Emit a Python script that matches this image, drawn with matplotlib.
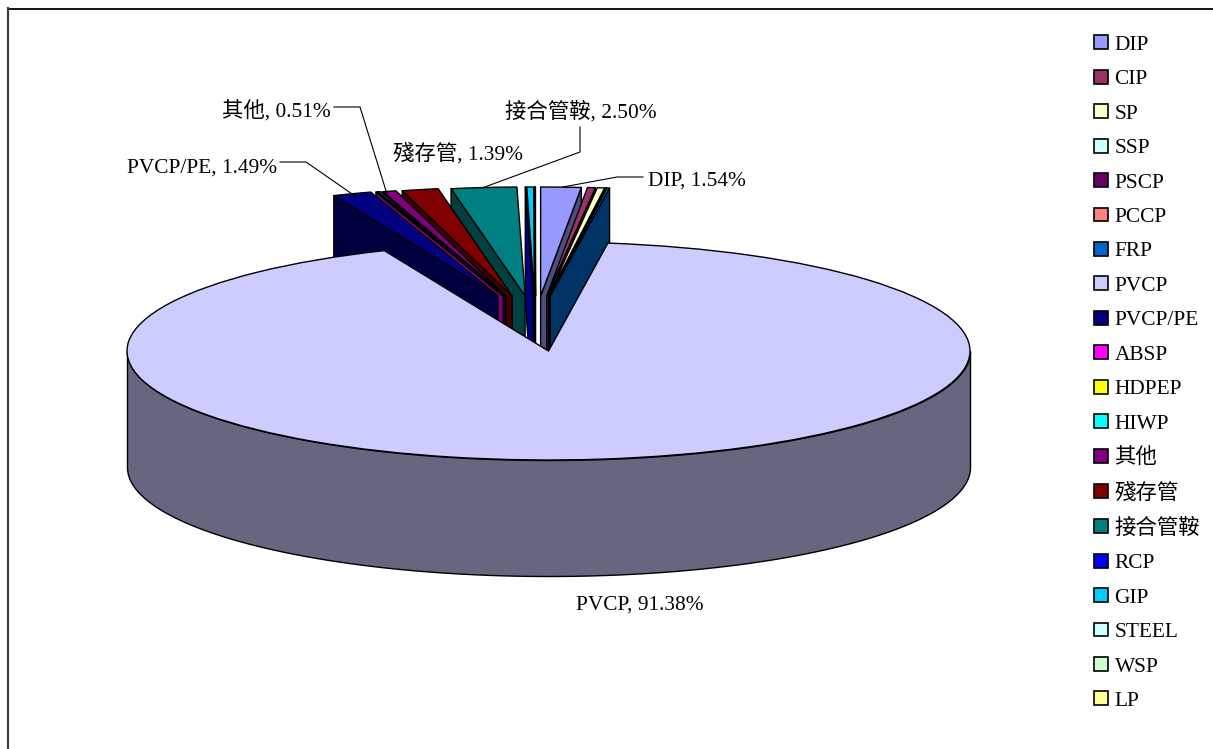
import numpy as np
import matplotlib
matplotlib.use("Agg")
import matplotlib.pyplot as plt
from matplotlib.colors import to_rgb
from matplotlib.patches import Patch
from matplotlib.transforms import Affine2D

W, H = 1213, 749

# ---- data ----
categories = ["DIP", "CIP", "SP", "SSP", "PSCP", "PCCP", "FRP", "PVCP", "PVCP/PE", "ABSP",
              "HDPEP", "HIWP", "其他", "殘存管", "接合管鞍", "RCP", "GIP", "STEEL", "WSP", "LP"]
shares = [1.54, 0.30, 0.28, 0.01, 0.01, 0.01, 0.10, 91.38, 1.49, 0.05,
          0.02, 0.10, 0.51, 1.39, 2.50, 0.02, 0.26, 0.01, 0.01, 0.01]
colors = ["#9999FF", "#993366", "#FFFFCC", "#CCFFFF", "#660066", "#FF8080", "#0066CC", "#CCCCFF",
          "#000080", "#FF00FF", "#FFFF00", "#00FFFF", "#800080", "#800000", "#008080", "#0000FF",
          "#00CCFF", "#CCFFFF", "#CCFFCC", "#FFFF99"]
labelled = ["PVCP", "DIP", "接合管鞍", "殘存管", "其他", "PVCP/PE"]

# ---- layout (pixels) ----
CX, CY, RX, RY, DEPTH = 548.5, 351.0, 421.5, 109.0, 116.0
LIFT, SHIFT0, SHIFT_PER_DEG = 55.0, -13.0, 1.85
FONT = ["Liberation Serif", "Noto Sans CJK TC", "DejaVu Sans"]
FS = 15.4
EDGE = 1.0

plt.rcParams["font.family"] = FONT
fig = plt.figure(figsize=(W / 100, H / 100), dpi=100, facecolor="white")
ax = fig.add_axes([0, 0, 1, 1])

wedges, _ = ax.pie(shares, colors=colors, startangle=90, counterclock=False, radius=1,
                   wedgeprops=dict(edgecolor="black", linewidth=EDGE, joinstyle="round"))
# the pie is squashed by the axes scales: one x unit = RX px, one y unit = RY px
ax.set_aspect("auto")
ax.set_xlim(-CX / RX, (W - CX) / RX)
ax.set_ylim((CY - H) / RY, CY / RY)
ax.set_axis_off()

main = int(np.argmax(shares))
depth = DEPTH / RY


def darker(c):
    return tuple(v * 0.5 for v in to_rgb(c))


for i, w in enumerate(wedges):
    if i == main:
        w.set_zorder(500)
        continue
    order = i + 1 if i < main else 60 - i
    mid = 90 - (w.theta1 + w.theta2) / 2   # clockwise from north
    if mid > 180:
        mid -= 360
    cx = (SHIFT0 + SHIFT_PER_DEG * mid) / RX
    cy = LIFT / RY
    w.set_center((cx, cy))
    w.set_zorder(2 * order + 1)
    edge = np.radians(w.theta1 if i < main else w.theta2)
    ox, oy = cx + np.cos(edge), cy + np.sin(edge)
    ax.fill([cx, ox, ox, cx], [cy, oy, oy - depth, cy - depth], facecolor=darker(colors[i]),
            edgecolor="black", linewidth=EDGE, joinstyle="round", zorder=2 * order)

# outer wall of the big slice
t = np.radians(np.linspace(180, 360, 240))
ax.fill_between(np.cos(t), np.sin(t), np.sin(t) - depth, facecolor=darker(colors[main]),
                edgecolor="black", linewidth=EDGE, zorder=490)

# pixel coordinates for annotation layout
px = Affine2D().scale(1 / W, -1 / H).translate(0, 1) + fig.transFigure


def pct(name):
    return f"{name}, {shares[categories.index(name)]:.2f}%"


label_pos = {"PVCP": (640, 605), "DIP": (697, 181), "接合管鞍": (581, 112),
             "殘存管": (458, 154), "其他": (276, 112), "PVCP/PE": (202, 168)}
leaders = {"DIP": ([643, 617, 563], [177, 177, 187]),
           "接合管鞍": ([580, 580, 482], [127, 152, 188]),
           "其他": ([334, 360, 387], [107, 107, 194]),
           "PVCP/PE": ([280, 306, 355], [162, 162, 196])}
for name in labelled:
    x, y = label_pos[name]
    ax.text(x, y, pct(name), transform=px, ha="center", va="center", fontsize=FS,
            color="black", zorder=700)
for xs, ys in leaders.values():
    ax.plot(xs, ys, transform=px, color="black", lw=0.8, zorder=600, clip_on=False)

# chart-area frame: only the top and left edges fall inside the picture
ax.plot([8, W], [8.5, 8.5], transform=px, color="black", lw=1.3, clip_on=False, zorder=800)
ax.plot([8, 8], [8, H], transform=px, color="#404040", lw=1.6, clip_on=False, zorder=800)

handles = [Patch(facecolor=c, edgecolor="black", linewidth=1.2) for c in colors]
ax.legend(handles, categories, loc="upper left", bbox_to_anchor=(1088 / W, 1 - 29 / H),
          bbox_transform=fig.transFigure, frameon=False, fontsize=FS, handlelength=0.62,
          handleheight=0.62, handletextpad=0.32, labelspacing=0.70, borderpad=0.3, borderaxespad=0)

fig.savefig("out.png", dpi=100, facecolor="white")
